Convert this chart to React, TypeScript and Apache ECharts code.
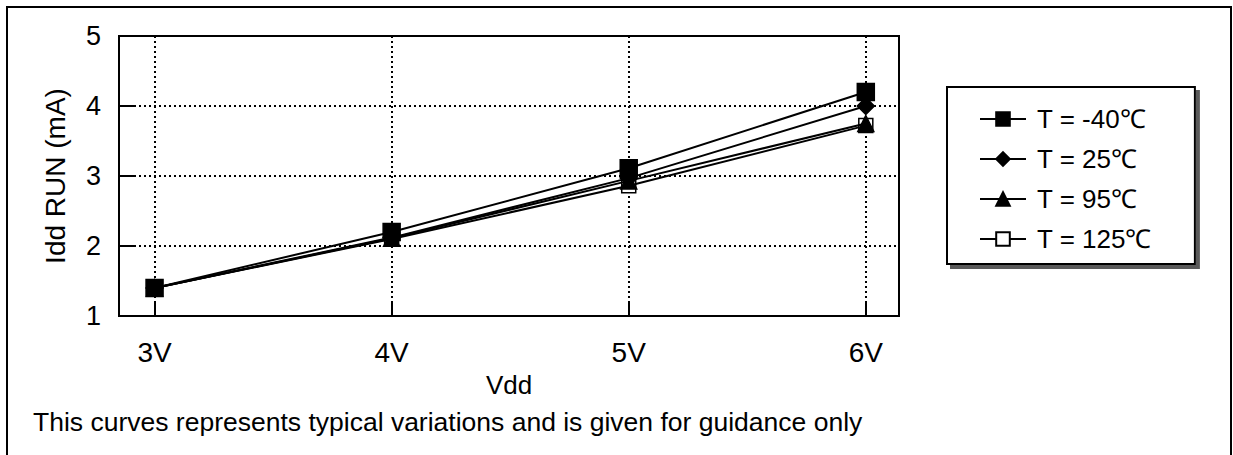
import React, { useEffect, useRef } from "react";
import * as echarts from "echarts";

const vddValues = [3, 4, 5, 6];
const yTicks = [1, 2, 3, 4, 5];
const seriesNames = ["T = -40℃", "T = 25℃", "T = 95℃", "T = 125℃"];
const tMinus40 = [1.4, 2.2, 3.11, 4.2];
const t25 = [1.4, 2.12, 2.97, 4.0];
const t95 = [1.4, 2.11, 2.93, 3.75];
const t125 = [1.4, 2.1, 2.86, 3.72];
const note = "This curves represents typical variations and is given for guidance only";

const FONT = "Liberation Sans, Arial, sans-serif";

export default function App() {
  const ref = useRef<HTMLDivElement>(null);
  useEffect(() => {
    if (!ref.current) return;
    const chart = echarts.init(ref.current, undefined, { renderer: "svg" });
    const mk = (vals: number[]) => vddValues.map((x, i) => [x, vals[i]]);
    const base = {
      type: "line" as const,
      lineStyle: { color: "#000", width: 2 },
      itemStyle: { color: "#000", borderColor: "#000", borderWidth: 1.5 },
      emphasis: { disabled: true },
    };
    chart.setOption({
      animation: false,
      backgroundColor: "#fff",
      textStyle: { fontFamily: FONT },
      grid: { left: 119, right: 334, top: 36, bottom: 139, show: true, borderColor: "#000", borderWidth: 2 },
      xAxis: {
        type: "value",
        min: 2.85,
        max: 6.14,
        name: "Vdd",
        nameLocation: "middle",
        nameGap: 56,
        nameTextStyle: { fontSize: 26, color: "#000", fontFamily: FONT },
        axisLine: { show: true, lineStyle: { color: "#000", width: 2 } },
        axisTick: { show: true, inside: true, length: 13, customValues: vddValues, lineStyle: { color: "#000", width: 2 } },
        axisLabel: { customValues: vddValues, formatter: (v: number) => `${v}V`, fontSize: 28, color: "#000", margin: 22, fontFamily: FONT },
        splitLine: { show: true, lineStyle: { color: "#000", width: 2, type: [2, 3] } },
      },
      yAxis: {
        type: "value",
        min: yTicks[0],
        max: yTicks[yTicks.length - 1],
        interval: 1,
        name: "Idd RUN (mA)",
        nameLocation: "middle",
        nameGap: 50,
        nameTextStyle: { fontSize: 28, color: "#000", fontFamily: FONT },
        axisLine: { show: true, lineStyle: { color: "#000", width: 2 } },
        axisTick: { show: true, inside: true, length: 16, lineStyle: { color: "#000", width: 2 } },
        axisLabel: { fontSize: 27, color: "#000", margin: 18, fontFamily: FONT },
        splitLine: { show: true, lineStyle: { color: "#000", width: 2, type: [2, 3] } },
      },
      legend: {
        orient: "vertical",
        left: 947,
        top: 87,
        padding: [19, 43, 12, 32],
        itemGap: 14,
        itemWidth: 46,
        itemHeight: 17,
        backgroundColor: "#fff",
        borderColor: "#000",
        borderWidth: 2,
        shadowColor: "rgba(90,90,90,1)",
        shadowOffsetX: 4,
        shadowOffsetY: 4,
        shadowBlur: 0,
        textStyle: { fontSize: 26, color: "#000", fontFamily: FONT, padding: [0, 0, 0, 6] },
        data: seriesNames,
      },
      series: [
        { ...base, name: seriesNames[3], data: mk(t125), symbol: "rect", symbolSize: 14, z: 2,
          itemStyle: { color: "#fff", borderColor: "#000", borderWidth: 1.5 } },
        { ...base, name: seriesNames[2], data: mk(t95), symbol: "triangle", symbolSize: 16, z: 3 },
        { ...base, name: seriesNames[1], data: mk(t25), symbol: "diamond", symbolSize: 17, z: 4 },
        { ...base, name: seriesNames[0], data: mk(tMinus40), symbol: "rect", symbolSize: 17, z: 5 },
      ],
      graphic: [
        { type: "rect", shape: { x: 7, y: 7, width: 1224, height: 470 }, style: { fill: "none", stroke: "#000", lineWidth: 2 }, silent: true },
        { type: "text", x: 33, y: 422, style: { text: note, fontSize: 26.5, fill: "#000", fontFamily: FONT, verticalAlign: "middle" } },
      ],
    });
    return () => chart.dispose();
  }, []);
  return <div ref={ref} style={{ position: "absolute", left: 0, top: 0, width: 1233, height: 455 }} />;
}
